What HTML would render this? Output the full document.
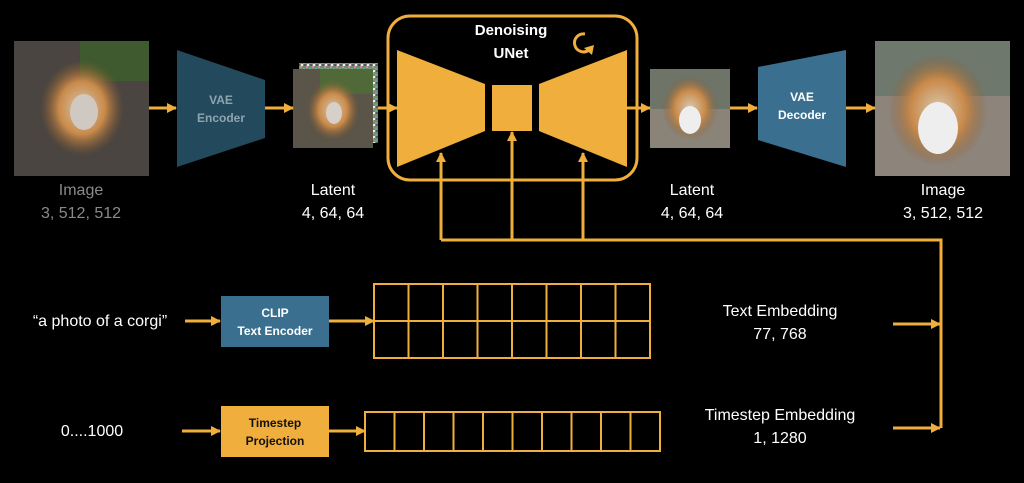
<!DOCTYPE html>
<html><head><meta charset="utf-8"><style>
html,body{margin:0;padding:0;background:#000;width:1024px;height:483px;overflow:hidden}
svg{display:block}
text{font-family:"Liberation Sans",sans-serif}
</style></head><body>
<svg width="1024" height="483" viewBox="0 0 1024 483" xmlns="http://www.w3.org/2000/svg">
<defs>
<marker id="ah" markerWidth="10" markerHeight="10" refX="9" refY="5" orient="auto" markerUnits="userSpaceOnUse">
<path d="M0,0 L10,5 L0,10 z" fill="#f0ae3c"/></marker>
<radialGradient id="dog" cx="50%" cy="50%" r="50%"><stop offset="0" stop-color="#d8c8b0"/><stop offset="0.55" stop-color="#c98a4a"/><stop offset="1" stop-color="#8a5a30" stop-opacity="0"/></radialGradient>
<pattern id="noise" width="6" height="6" patternUnits="userSpaceOnUse">
<rect width="6" height="6" fill="#7a8a6a"/><rect width="2" height="2" fill="#c8a"/><rect x="3" y="2" width="2" height="2" fill="#6a9"/><rect x="1" y="4" width="2" height="2" fill="#eee"/><rect x="4" y="4" width="2" height="2" fill="#557"/></pattern>
</defs>
<rect x="14" y="41" width="135" height="135" fill="#4a4540"/>
<rect x="80" y="41" width="69" height="40" fill="#3f5a2e"/>
<ellipse cx="82" cy="108" rx="42" ry="48" fill="url(#dog)"/>
<ellipse cx="84" cy="112" rx="14" ry="18" fill="#cfc9c2"/>
<path d="M177,50 L265,80 L265,138 L177,167 z" fill="#23495c"/>
<text x="221" y="104" fill="#8ea5b0" font-size="12" font-weight="bold" text-anchor="middle">VAE</text>
<text x="221" y="122" fill="#8ea5b0" font-size="12" font-weight="bold" text-anchor="middle">Encoder</text>
<rect x="299" y="63" width="79" height="80" fill="url(#noise)"/>
<rect x="293" y="69" width="80" height="79" fill="#5a5548"/>
<rect x="320" y="69" width="53" height="25" fill="#4f6a38"/>
<ellipse cx="333" cy="110" rx="26" ry="30" fill="url(#dog)"/>
<ellipse cx="334" cy="113" rx="8" ry="11" fill="#d6d0c8"/>
<rect x="388" y="16" width="249" height="164" rx="22" fill="none" stroke="#f0ae3c" stroke-width="3"/>
<path d="M397,50 L485,84 L485,131 L397,167 z" fill="#f0ae3c"/>
<rect x="492" y="85" width="40" height="46" fill="#f0ae3c"/>
<path d="M539,84 L627,50 L627,167 L539,131 z" fill="#f0ae3c"/>
<text x="511" y="35" fill="#fff" font-size="15" font-weight="bold" text-anchor="middle">Denoising</text>
<text x="511" y="58" fill="#fff" font-size="15" font-weight="bold" text-anchor="middle">UNet</text>
<path d="M589,50 A9,9 0 1 1 585,34" fill="none" stroke="#f0ae3c" stroke-width="3"/>
<path d="M584,48 L594,45 L592,55 z" fill="#f0ae3c"/>
<rect x="650" y="69" width="80" height="79" fill="#8a8478"/>
<rect x="650" y="69" width="80" height="40" fill="#6e7468"/>
<ellipse cx="690" cy="108" rx="28" ry="32" fill="url(#dog)"/>
<ellipse cx="690" cy="120" rx="11" ry="14" fill="#eee"/>
<path d="M758,67 L846,50 L846,167 L758,140 z" fill="#3a6f8f"/>
<text x="802" y="101" fill="#fff" font-size="12" font-weight="bold" text-anchor="middle">VAE</text>
<text x="802" y="119" fill="#fff" font-size="12" font-weight="bold" text-anchor="middle">Decoder</text>
<rect x="875" y="41" width="135" height="135" fill="#8d857c"/>
<rect x="875" y="41" width="135" height="55" fill="#6f786c"/>
<ellipse cx="938" cy="110" rx="50" ry="56" fill="url(#dog)"/>
<ellipse cx="938" cy="128" rx="20" ry="26" fill="#eee"/>
<g font-size="16" text-anchor="middle">
<text x="81" y="195" fill="#8a8a8a">Image</text><text x="81" y="218" fill="#8a8a8a">3, 512, 512</text>
<text x="333" y="195" fill="#fff">Latent</text><text x="333" y="218" fill="#fff">4, 64, 64</text>
<text x="692" y="195" fill="#fff">Latent</text><text x="692" y="218" fill="#fff">4, 64, 64</text>
<text x="943" y="195" fill="#fff">Image</text><text x="943" y="218" fill="#fff">3, 512, 512</text>
<text x="780" y="316" fill="#fff">Text Embedding</text><text x="780" y="339" fill="#fff">77, 768</text>
<text x="780" y="420" fill="#fff">Timestep Embedding</text><text x="780" y="443" fill="#fff">1, 1280</text>
<text x="100" y="326" fill="#fff">“a photo of a corgi”</text>
<text x="92" y="436" fill="#fff">0....1000</text>
</g>
<g stroke="#f0ae3c" stroke-width="3" fill="none">
<line x1="149" y1="108" x2="176" y2="108" marker-end="url(#ah)"/>
<line x1="265" y1="108" x2="293" y2="108" marker-end="url(#ah)"/>
<line x1="378" y1="108" x2="397" y2="108" marker-end="url(#ah)"/>
<line x1="627" y1="108" x2="650" y2="108" marker-end="url(#ah)"/>
<line x1="730" y1="108" x2="757" y2="108" marker-end="url(#ah)"/>
<line x1="846" y1="108" x2="875" y2="108" marker-end="url(#ah)"/>
<polyline points="441,240 941,240 941,428"/>
<line x1="441" y1="240" x2="441" y2="153" marker-end="url(#ah)"/>
<line x1="512" y1="240" x2="512" y2="132" marker-end="url(#ah)"/>
<line x1="583" y1="240" x2="583" y2="153" marker-end="url(#ah)"/>
<line x1="893" y1="324" x2="940" y2="324" marker-end="url(#ah)"/>
<line x1="893" y1="428" x2="940" y2="428" marker-end="url(#ah)"/>
<line x1="185" y1="321" x2="220" y2="321" marker-end="url(#ah)"/>
<line x1="329" y1="321" x2="374" y2="321" marker-end="url(#ah)"/>
<line x1="182" y1="431" x2="220" y2="431" marker-end="url(#ah)"/>
<line x1="329" y1="431" x2="365" y2="431" marker-end="url(#ah)"/>
</g>
<rect x="221" y="296" width="108" height="51" fill="#3a6f8f"/>
<text x="275" y="317" fill="#fff" font-size="12" font-weight="bold" text-anchor="middle">CLIP</text>
<text x="275" y="335" fill="#fff" font-size="12" font-weight="bold" text-anchor="middle">Text Encoder</text>
<rect x="221" y="406" width="108" height="51" fill="#f0ae3c"/>
<text x="275" y="427" fill="#111" font-size="12" font-weight="bold" text-anchor="middle">Timestep</text>
<text x="275" y="445" fill="#111" font-size="12" font-weight="bold" text-anchor="middle">Projection</text>
<g stroke="#f0ae3c" stroke-width="2" fill="none">
<rect x="374" y="284" width="276" height="74"/>
<line x1="374" y1="321" x2="650" y2="321"/>
<path d="M408.5,284V358M443,284V358M477.5,284V358M512,284V358M546.5,284V358M581,284V358M615.5,284V358"/>
<rect x="365" y="412" width="295" height="39"/>
<path d="M394.5,412V451M424,412V451M453.5,412V451M483,412V451M512.5,412V451M542,412V451M571.5,412V451M601,412V451M630.5,412V451"/>
</g>
</svg>
</body></html>
